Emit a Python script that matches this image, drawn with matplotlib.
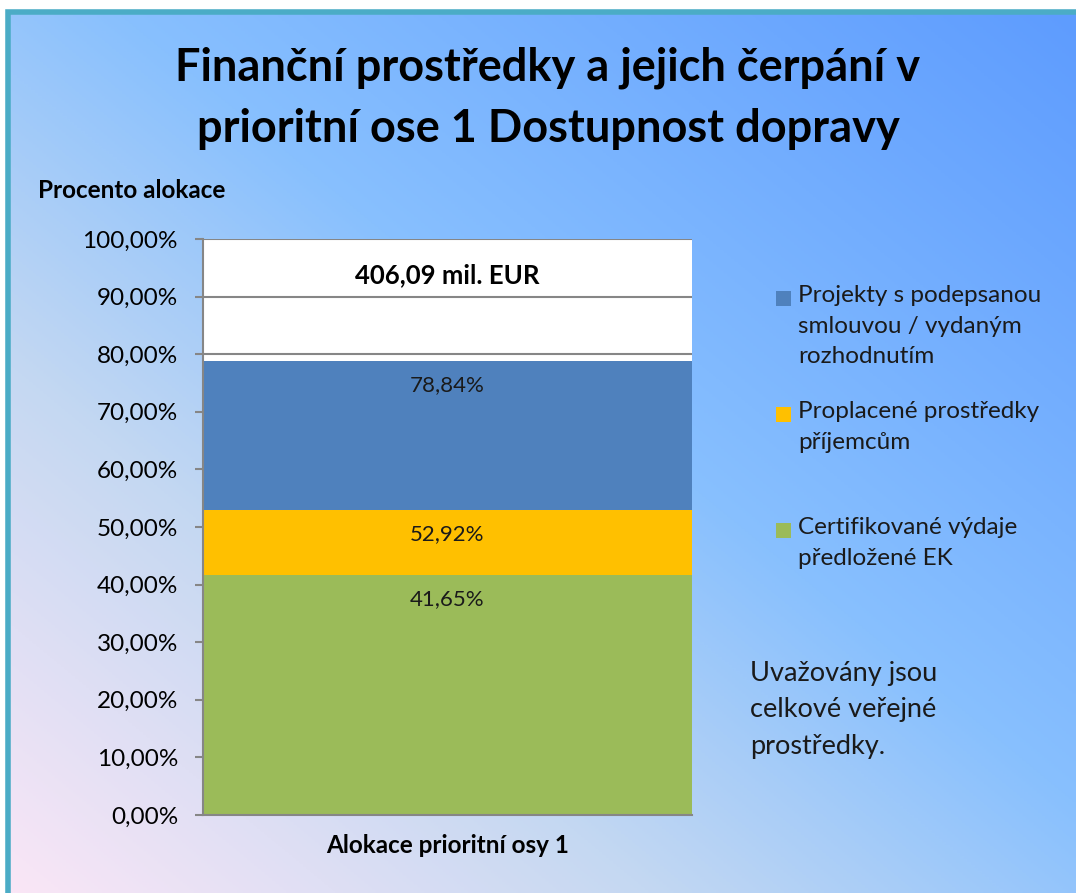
import numpy as np
import matplotlib
matplotlib.use("Agg")
import matplotlib.pyplot as plt
from matplotlib.colors import LinearSegmentedColormap
from matplotlib.patches import Rectangle

plt.rcParams['font.family'] = ['Lato', 'DejaVu Sans']

# data (cumulative shares of the allocation, in %)
category = "Alokace prioritní osy 1"
series_names = [
    "Projekty s podepsanou\nsmlouvou / vydaným\nrozhodnutím",
    "Proplacené prostředky\npříjemcům",
    "Certifikované výdaje\npředložené EK",
]
series_values = [78.84, 52.92, 41.65]
series_colors = ["#4f81bd", "#ffc000", "#9bbb59"]
value_labels = ["78,84%", "52,92%", "41,65%"]
y_ticks = [0, 10, 20, 30, 40, 50, 60, 70, 80, 90, 100]
total_label = "406,09 mil. EUR"
title = "Finanční prostředky a jejich čerpání v\nprioritní ose 1 Dostupnost dopravy"
note = "Uvažovány jsou\ncelkové veřejné\nprostředky."

W, H = 1076, 893
fig = plt.figure(figsize=(W / 100, H / 100), dpi=100)
fig.patch.set_facecolor("white")

# gradient background, pink bottom-left to blue top-right
bg = fig.add_axes([8 / W, 0, 1 - 8 / W, 1 - 12 / H])
bg.set_axis_off()
gx, gy = np.meshgrid(np.linspace(0, 1, 300), np.linspace(0, 1, 300))
t = (gx + gy) / 2
cmap = LinearSegmentedColormap.from_list(
    "bg", [(0.0, "#fae6f6"), (0.3, "#c4d8f2"), (0.55, "#88c0fe"), (1.0, "#5e9cff")])
bg.imshow(t, cmap=cmap, origin="lower", extent=[0, 1, 0, 1], aspect="auto")
bg.set_xlim(0, 1)
bg.set_ylim(0, 1)

# teal frame (top and left edges visible)
fig.patches.append(Rectangle((8 / W, -0.01), 1.0, 1 - 12 / H + 0.01, transform=fig.transFigure,
                             fill=False, edgecolor="#4bacc6", linewidth=4, zorder=5))

ax = fig.add_axes([203 / W, 1 - 815 / H, 489 / W, 576 / H])
ax.set_facecolor("white")
ax.set_xlim(-0.5, 0.5)
ax.set_ylim(0, 100)
ax.set_axisbelow(True)
ax.yaxis.grid(True, color="#868686", linewidth=1.5)

for val, col, lab in zip(series_values, series_colors, value_labels):
    ax.bar(0, val, width=1.0, color=col, zorder=2)
    ax.annotate(lab, (0, val), xytext=(0, -24), textcoords="offset pixels",
                ha="center", va="center", fontsize=16, color="#1a1a1a", zorder=3)

ax.text(0, 93.7, total_label, ha="center", va="center", fontsize=18.5,
        fontweight="bold", color="black")

ax.set_yticks(y_ticks)
ax.set_yticklabels([f"{v:.2f}%".replace(".", ",") for v in y_ticks], fontsize=17.5)
ax.set_xticks([0])
ax.set_xticklabels([category], fontsize=17.5, fontweight="bold")
ax.tick_params(axis="y", length=6, width=1.5, color="#868686", pad=12)
ax.tick_params(axis="x", length=0, pad=14)
for s in ["top", "right"]:
    ax.spines[s].set_visible(False)
for s in ["left", "bottom"]:
    ax.spines[s].set_color("#868686")
    ax.spines[s].set_linewidth(1.5)

fig.text(548 / W, 1 - 98 / H, title, ha="center", va="center", fontsize=32.5,
         fontweight="bold", linespacing=1.55)
fig.text(38 / W, 1 - 190 / H, "Procento alokace", ha="left", va="center",
         fontsize=17.5, fontweight="bold")

# legend
legend_tops = [297, 413, 529]
for name, col, ty in zip(series_names, series_colors, legend_tops):
    fig.patches.append(Rectangle((776 / W, 1 - (ty + 9) / H), 15 / W, 15 / H,
                                 transform=fig.transFigure, facecolor=col, edgecolor="none"))
    fig.text(798 / W, 1 - (ty - 12) / H, name, ha="left", va="top", fontsize=17.5,
             linespacing=1.57, color="#1a1a1a")

fig.text(750 / W, 1 - 661 / H, note, ha="left", va="top", fontsize=19.5,
         linespacing=1.57, color="#1a1a1a")

fig.savefig("out.png", dpi=100)
